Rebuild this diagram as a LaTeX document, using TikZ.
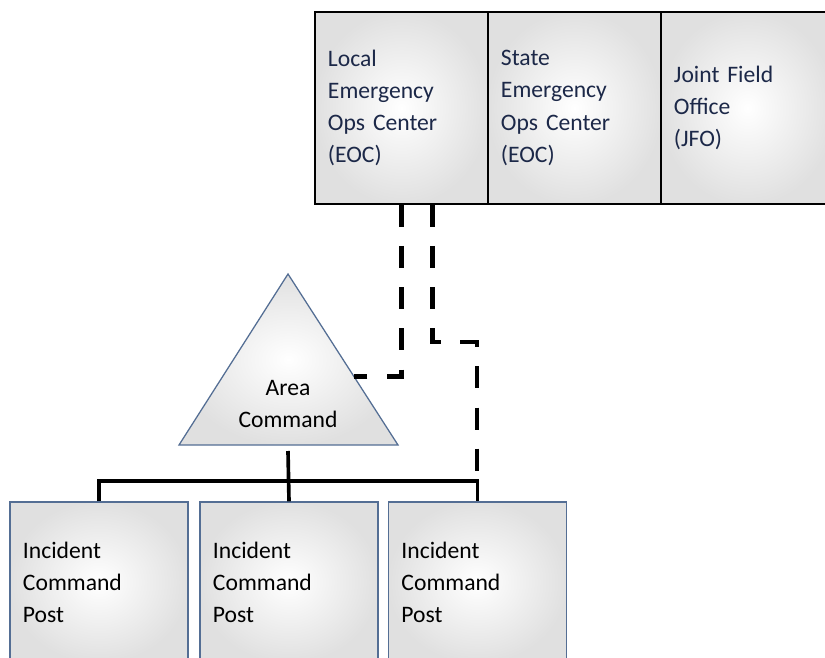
\documentclass[tikz,border=0pt]{standalone}
\usepackage{fontspec}
\setmainfont{Carlito}
\usetikzlibrary{calc}
\definecolor{navy}{RGB}{28,40,72}
\definecolor{edgeblue}{RGB}{84,110,148}
\tikzset{
  labelfont/.style={font=\fontsize{16.8}{22.8}\selectfont},
  opsbox/.style={draw=black, line width=1pt, inner color=white, outer color=gray!24,
    minimum width=4.325cm, minimum height=4.8cm, inner xsep=0.325cm,
    text width=3.675cm, align=left, text=navy, labelfont},
  postbox/.style={draw=edgeblue, line width=1pt, inner color=white, outer color=gray!24,
    minimum width=4.45cm, minimum height=4cm, inner xsep=0.325cm,
    text width=3.8cm, align=left, labelfont},
  busline/.style={line width=2.6pt},
  dashline/.style={line width=3.4pt, dash pattern=on 0.55cm off 0.48cm}
}
\begin{document}
\begin{tikzpicture}[x=0.025cm,y=-0.025cm]
  \useasboundingbox (0,0) rectangle (825,658);
  \clip (0,0) rectangle (825,658);
  % operations centers
  \node[opsbox] (lEOC) at (401.5,108) {Local\\Emergency\\Ops Center\\(EOC)};
  \node[opsbox] (sEOC) at (574.5,108) {State\\Emergency\\Ops Center\\(EOC)};
  \node[opsbox] (jfo) at (747.5,108) {Joint Field\\Office\\(JFO)};
  % area command
  \coordinate (apex) at (288,274);
  \coordinate (bl) at (179,445);
  \coordinate (br) at (398,445);
  \path[draw=edgeblue, line width=0.9pt, inner color=white, outer color=gray!24]
    (apex) -- (bl) -- (br) -- cycle;
  \node[labelfont, align=center] (area) at (288,404) {Area\\Command};
  % incident command posts
  \node[postbox] (icp1) at (99,582) {Incident\\Command\\Post};
  \node[postbox] (icp2) at (289,582) {Incident\\Command\\Post};
  \node[postbox] (icp3) at (477.5,582) {Incident\\Command\\Post};
  \coordinate (bus) at (0,481);
  \draw[busline] (icp1.north) |- (icp3.north |- bus) -- (icp3.north);
  \draw[busline] (288,451) -- (icp2.north);
  % links to the EOC
  \draw[dashline] (lEOC.south) |- ($(apex)!0.6!(br)$);
  \coordinate (bend) at (477,342);
  \draw[dashline] ([xshift=0.775cm]lEOC.south) |- (bend) -- (bend |- bus);
\end{tikzpicture}
\end{document}
